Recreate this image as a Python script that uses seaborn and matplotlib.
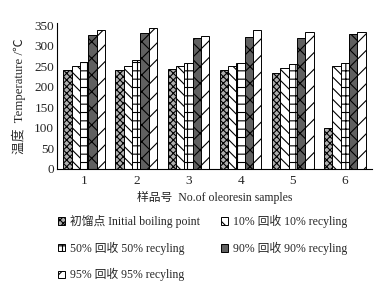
import numpy as np
import pandas as pd
import matplotlib
matplotlib.use("Agg")
import matplotlib.pyplot as plt
import seaborn as sns
from matplotlib.patches import Patch

samples = ["1", "2", "3", "4", "5", "6"]
series = ["初馏点 Initial boiling point", "10% 回收 10% recyling",
          "50% 回收 50% recyling", "90% 回收 90% recyling",
          "95% 回收 95% recyling"]
initial = [241, 241, 245, 241, 235, 100]
rec10 = [250, 250, 250, 250, 247, 250]
rec50 = [262, 265, 259, 259, 256, 259]
rec90 = [326, 332, 320, 322, 320, 329]
rec95 = [339, 344, 325, 340, 335, 335]
yticks = [0, 50, 100, 150, 200, 250, 300, 350]

hatches = ["xxxxx", "\\\\\\", "++", "xx", "//"]
faces = ["#b0b0b0", "white", "white", "#606060", "white"]

sns.set_style("white")
plt.rcParams["font.family"] = ["Liberation Serif", "Noto Sans CJK SC"]
plt.rcParams["hatch.linewidth"] = 0.8
plt.rcParams["axes.unicode_minus"] = False

df = pd.DataFrame({
    "sample": samples * 5,
    "series": np.repeat(series, len(samples)),
    "value": initial + rec10 + rec50 + rec90 + rec95,
})

fig = plt.figure(figsize=(3.8, 2.84), dpi=100)
ax = fig.add_axes([0.15, 0.405, 0.829, 0.514])
sns.barplot(data=df, x="sample", y="value", hue="series", hue_order=series,
            width=0.8, ax=ax, legend=False, saturation=1)

for i, cont in enumerate(ax.containers):
    for bar in cont:
        bar.set_facecolor(faces[i])
        bar.set_edgecolor("black")
        bar.set_linewidth(0.7)
        bar.set_hatch(hatches[i])

ax.set_xlim(-0.52, 5.52)
ax.set_ylim(0, 356)
ax.set_yticks(yticks)
ax.set_xticks(np.arange(-0.5, 6.0, 1.0), minor=True)
ax.tick_params(axis="x", which="major", length=0, labelsize=9.5, pad=4)
ax.tick_params(axis="x", which="minor", direction="in", length=3, width=0.8)
ax.tick_params(axis="y", direction="in", length=3, width=0.8, labelsize=9.5, pad=2)
for s in ["top", "right"]:
    ax.spines[s].set_visible(False)
for s in ["left", "bottom"]:
    ax.spines[s].set_color("black")
    ax.spines[s].set_linewidth(0.8)

ax.set_xlabel("样品号  No.of oleoresin samples", fontsize=8.5, labelpad=3)
ax.set_ylabel("温度  Temperature /℃", fontsize=9.2, labelpad=6)

handles = [Patch(facecolor=faces[i], edgecolor="black", hatch=hatches[i],
                 linewidth=0.7, label=series[i]) for i in range(5)]
kw = dict(frameon=False, fontsize=8.5, handlelength=0.6, handleheight=0.6,
          handletextpad=0.45, labelspacing=1.15, borderpad=0,
          borderaxespad=0, loc="upper left")
fig.legend(handles=[handles[0], handles[2], handles[4]],
           bbox_to_anchor=(58 / 380, 1 - 215 / 284), **kw)
fig.legend(handles=[handles[1], handles[3]],
           bbox_to_anchor=(221 / 380, 1 - 215 / 284), **kw)

fig.savefig("out.png", dpi=100)
